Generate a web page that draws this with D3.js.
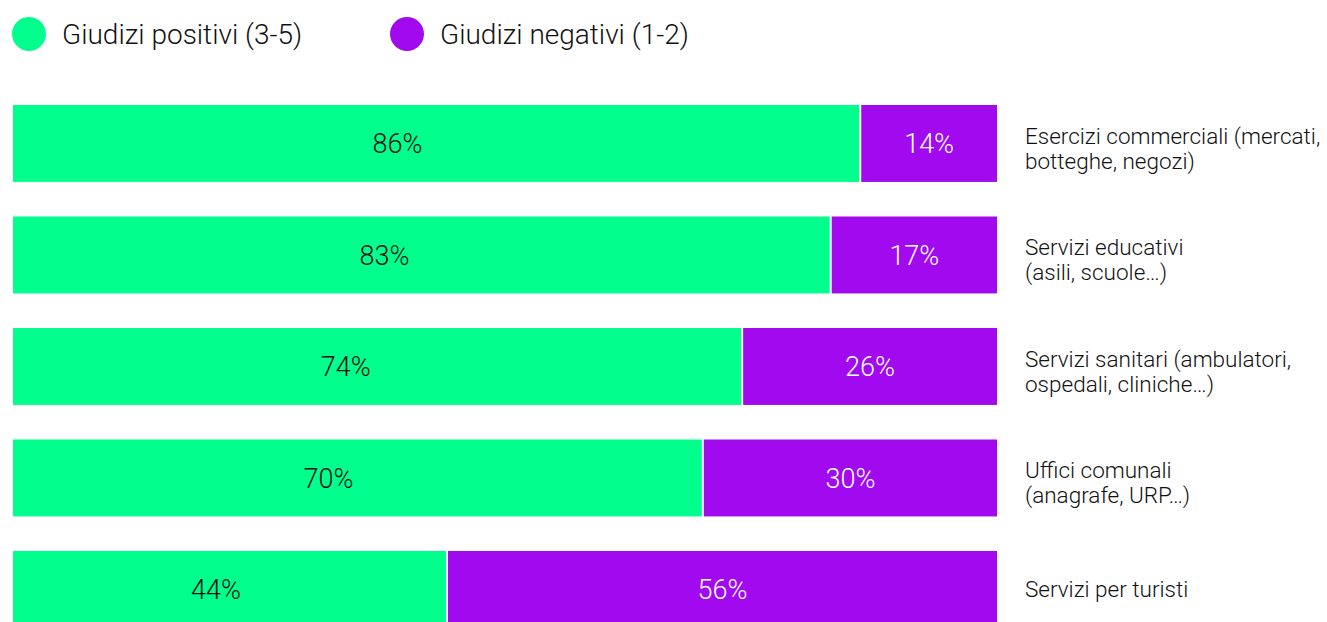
<!DOCTYPE html>
<html><head><meta charset="utf-8">
<script src="https://cdn.jsdelivr.net/npm/d3@7"></script>
<style>body{margin:0;background:#fff;overflow:hidden}svg{display:block;font-family:Roboto,"Noto Sans",sans-serif}</style>
</head><body>
<svg id="c" width="1327" height="622"></svg>
<script>
const categories = [
  ["Esercizi commerciali (mercati,", "botteghe, negozi)"],
  ["Servizi educativi", "(asili, scuole…)"],
  ["Servizi sanitari (ambulatori,", "ospedali, cliniche…)"],
  ["Uffici comunali", "(anagrafe, URP…)"],
  ["Servizi per turisti"]
];
const positivi = [86, 83, 74, 70, 44];
const negativi = [14, 17, 26, 30, 56];
const seriesNames = ["Giudizi positivi (3-5)", "Giudizi negativi (1-2)"];
const colors = ["#00FF8D", "#A10AEF"];
const textColors = ["#111", "#fff"];

const svg = d3.select("#c");
const x = d3.scaleLinear().domain([0, 100]).range([13, 997]);
// positive-segment value labels sit left of the segment centre in the reference
const xPosLabel = d3.scaleLinear().domain([0, 100]).range([26, 458]);
const step = 111.5;
const y = d3.scaleBand().domain(d3.range(categories.length))
  .range([105, 105 + step * categories.length]).paddingInner(0.31).paddingOuter(0.155).align(0);
const bw = y.bandwidth();

// legend
const legX = [29, 407];
seriesNames.forEach((s, i) => {
  svg.append("circle").attr("cx", legX[i]).attr("cy", 34).attr("r", 17).attr("fill", colors[i]);
  svg.append("text").attr("x", legX[i] + 33).attr("y", 34).attr("dy", "0.35em")
    .attr("font-size", 28).attr("font-weight", 300).attr("fill", "#111").text(s);
});

categories.forEach((c, i) => {
  const y0 = y(i);
  const segs = [[0, positivi[i]], [positivi[i], positivi[i] + negativi[i]]];
  segs.forEach((sg, j) => {
    const x0 = x(sg[0]) + (j === 1 ? 2 : 0);
    const x1 = x(sg[1]);
    svg.append("rect").attr("x", x0).attr("y", y0).attr("width", x1 - x0).attr("height", bw).attr("fill", colors[j]);
    const lx = j === 0 ? xPosLabel(positivi[i]) : (x0 + x1) / 2;
    svg.append("text").attr("x", lx).attr("y", y0 + bw / 2).attr("dy", "0.36em")
      .attr("text-anchor", "middle").attr("font-size", 27).attr("font-weight", 300)
      .attr("fill", textColors[j]).text((j === 0 ? positivi[i] : negativi[i]) + "%");
  });
  const cy = y0 + bw / 2;
  const n = c.length;
  c.forEach((line, k) => {
    svg.append("text").attr("x", 1025)
      .attr("y", cy + (k - (n - 1) / 2) * 25 + (n > 1 ? 5 : 0)).attr("dy", "0.35em")
      .attr("font-size", 22.5).attr("font-weight", 300).attr("fill", "#111").text(line);
  });
});
</script>
</body></html>
